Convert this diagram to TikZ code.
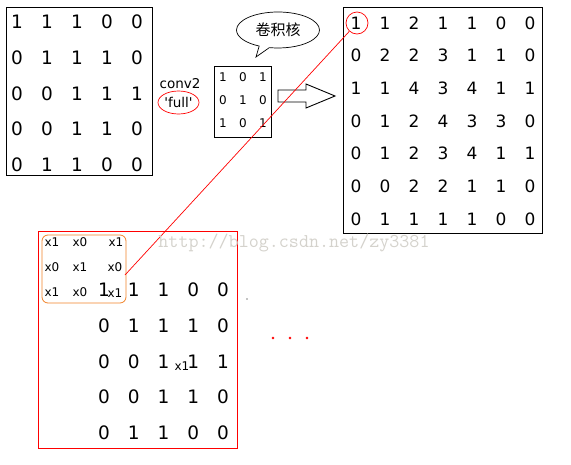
\documentclass[tikz,border=0pt]{standalone}
\usepackage{fontspec}
\setmainfont{DejaVu Sans}
\newfontfamily\cjk{Noto Sans CJK SC}
\usetikzlibrary{shapes.geometric,shapes.callouts}
\definecolor{markgray}{RGB}{212,210,204}
\definecolor{winorange}{RGB}{240,130,40}

\begin{document}
\begin{tikzpicture}[x=1pt,y=-1pt]
	\tikzstyle{matbox} = [draw=black, line width=0.9pt]
	\tikzstyle{digbig} = [inner sep=0pt, font=\fontsize{18.5}{18.5}\selectfont]
	\tikzstyle{digout} = [inner sep=0pt, font=\fontsize{17}{17}\selectfont]
	\tikzstyle{digsmall} = [inner sep=0pt, font=\fontsize{12}{12}\selectfont]
	\useasboundingbox (0,0) rectangle (571,464);
	% input
	\draw[matbox] (6,7) rectangle (152,175);
	\foreach \r [count=\i] in {{1,1,1,0,0},{0,1,1,1,0},{0,0,1,1,1},{0,0,1,1,0},{0,1,1,0,0}}
		\foreach \v [count=\j] in \r
			\node[digbig] (in\i\j) at ({17+30*(\j-1)},{22+35.75*(\i-1)}) {\v};
	\node[inner sep=0pt, font=\fontsize{13.5}{13.5}\selectfont] (conv) at (180,84) {conv2};
	\node[draw=red, ellipse, line width=0.7pt, minimum width=41pt, minimum height=23pt, inner sep=0pt,
		font=\fontsize{13.5}{13.5}\selectfont] (full) at (178.5,102.5) {\textquotesingle full\textquotesingle};
	% kernel
	\draw[matbox] (214,66) rectangle (271,137);
	\foreach \r [count=\i] in {{1,0,1},{0,1,0},{1,0,1}}
		\foreach \v [count=\j] in \r
			\node[digsmall] (k\i\j) at ({223+20*(\j-1)},{77+23*(\i-1)}) {\v};
	\node[ellipse callout, draw, line width=0.7pt, minimum width=83pt, minimum height=36pt, inner sep=0pt,
		callout absolute pointer={(256,57)}, font=\cjk\fontsize{15}{15}\selectfont] (bubble) at (278,30) {卷积核};
	\draw[line width=0.9pt] (278,90) -- (306,90) -- (306,84) -- (335,96) -- (306,108) -- (306,102) -- (278,102) -- cycle;
	% output
	\draw[matbox] (343,7) rectangle (542,233);
	\foreach \r [count=\i] in {{1,1,2,1,1,0,0},{0,2,2,3,1,1,0},{1,1,4,3,4,1,1},{0,1,2,4,3,3,0},{0,1,2,3,4,1,1},{0,0,2,2,1,1,0},{0,1,1,1,1,0,0}}
		\foreach \v [count=\j] in \r
			\node[digout] (out\i\j) at ({356+29*(\j-1)},{23+32.67*(\i-1)}) {\v};
	\node[draw=red, circle, line width=0.7pt, minimum size=22pt, inner sep=0pt] (hit) at (357,23) {};
	% padded input
	\draw[red, line width=0.9pt] (38,231) rectangle (237,448);
	\foreach \r [count=\i] in {{1,1,1,0,0},{0,1,1,1,0},{0,0,1,1,1},{0,0,1,1,0},{0,1,1,0,0}}
		\foreach \v [count=\j] in \r
			\node[digbig] (pad\i\j) at ({104+29.75*(\j-1)},{290+35.75*(\i-1)}) {\v};
	\node[draw=winorange, line width=0.8pt, rounded corners=6pt, minimum width=84pt, minimum height=68pt] (win) at (84,269) {};
	\node[digsmall] (w11) at (52,242) {x1};
	\node[digsmall] (w12) at (80,242) {x0};
	\node[digsmall] (w13) at (116,242) {x1};
	\node[digsmall] (w21) at (52,267) {x0};
	\node[digsmall] (w22) at (80,267) {x1};
	\node[digsmall] (w23) at (115,267) {x0};
	\node[digsmall] (w31) at (52,292) {x1};
	\node[digsmall] (w32) at (80,292) {x0};
	\node[digsmall] (w33) at (115,293) {x1};
	\node[digsmall] (lone) at (182,366) {x1};
	\coordinate (tip) at (125,275);
	\draw[red, line width=0.7pt] (hit) -- (tip);
	\fill[black] (247,299) circle (0.6pt);
	\filldraw[red]
			(273,338) circle (1.2pt)
			(290,338) circle (1.2pt)
			(307,338) circle (1.2pt);
	\node[text=markgray, inner sep=0pt, font=\ttfamily\fontsize{19.5}{19.5}\selectfont] (mark) at (294,243) {http://blog.csdn.net/zy3381};
\end{tikzpicture}
\end{document}
